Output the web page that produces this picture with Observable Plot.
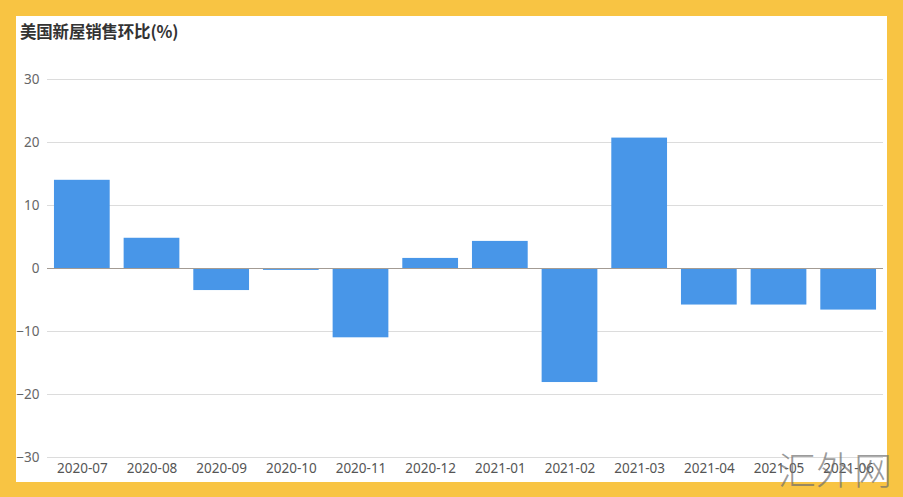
<!DOCTYPE html>
<html>
<head>
<meta charset="utf-8">
<script src="https://cdn.jsdelivr.net/npm/d3@7"></script>
<script src="https://cdn.jsdelivr.net/npm/@observablehq/plot@0.6"></script>
<style>
  html, body { margin: 0; padding: 0; background: #fff; }
  #frame { position: relative; width: 903px; height: 497px; background: #f8c443; overflow: hidden; }
  #inner { position: absolute; left: 16px; top: 16px; width: 871px; height: 466px; background: #fff; }
  #title { position: absolute; left: 20px; top: 19px; font: bold 16.5px "Noto Sans CJK SC", sans-serif; color: #333; letter-spacing: -0.2px; }
  #chart { position: absolute; left: 16px; top: 50px; }
  #wm { position: absolute; left: 778px; top: 440px; font: 300 38px "Noto Sans CJK SC", sans-serif; color: rgba(110,110,110,0.7); }
</style>
</head>
<body>
<div id="frame">
  <div id="inner"></div>
  <div id="title">美国新屋销售环比(%)</div>
  <div id="chart"></div>
  <div id="wm">汇外网</div>
</div>
<script>
const months = ["2020-07","2020-08","2020-09","2020-10","2020-11","2020-12","2021-01","2021-02","2021-03","2021-04","2021-05","2021-06"];
const changes = [14.0, 4.8, -3.5, -0.3, -11.0, 1.6, 4.3, -18.1, 20.7, -5.8, -5.8, -6.6];
const yTicks = [-30, -20, -10, 0, 10, 20, 30];

const data = months.map((m, i) => ({month: m, value: changes[i]}));

const chart = Plot.plot({
  width: 871,
  height: 432,
  marginTop: 29,
  marginBottom: 25,
  marginLeft: 31,
  marginRight: 4,
  style: {fontFamily: "'Noto Sans', sans-serif", fontSize: "13.5px", color: "#666", background: "transparent"},
  x: {domain: months, paddingInner: 0.2, paddingOuter: 0.1, round: false, label: null, tickSize: 0, tickPadding: 6},
  y: {domain: [-30, 30], ticks: yTicks, label: null, tickSize: 0, tickPadding: 8},
  marks: [
    Plot.gridY(yTicks, {stroke: "#dcdcdc", strokeOpacity: 1, strokeWidth: 1}),
    Plot.barY(data, {x: "month", y: "value", fill: "#4896e8"}),
    Plot.ruleY([0], {stroke: "#a39b93", strokeWidth: 1.2}),
    Plot.axisX({tickSize: 0, tickPadding: 6, fill: "#555", fontSize: 13.5}),
    Plot.axisY(yTicks, {tickSize: 0, tickPadding: 8, fill: "#666", fontSize: 13.5})
  ]
});
document.getElementById("chart").appendChild(chart);
</script>
</body>
</html>
